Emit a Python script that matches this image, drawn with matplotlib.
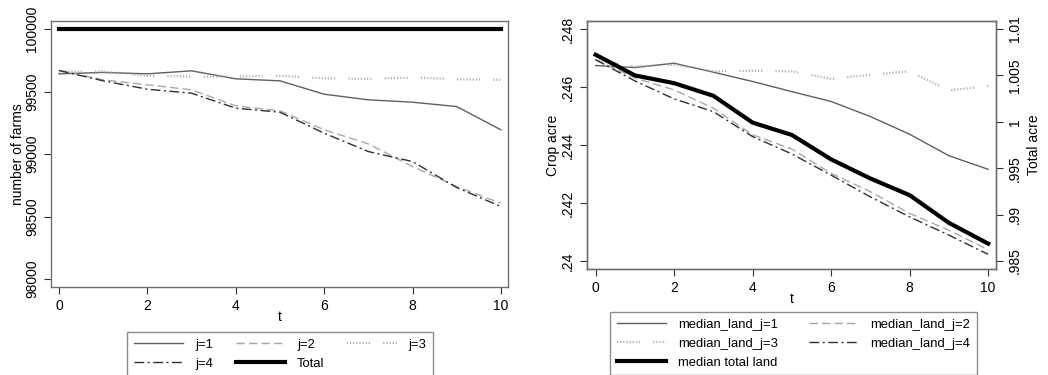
"""
Farm counts and median land by type j over t
"""
import matplotlib
matplotlib.use('Agg')
import matplotlib.pyplot as plt

# ###
# data
# ###
T = [0, 1, 2, 3, 4, 5, 6, 7, 8, 9, 10]

# number of farms
FARMS_J1 = [99642, 99653, 99642, 99666, 99602, 99586, 99479, 99434, 99415, 99380, 99194]
FARMS_J2 = [99669, 99594, 99554, 99514, 99386, 99346, 99194, 99081, 98900, 98740, 98606]
FARMS_J3 = [99660, 99660, 99626, 99620, 99620, 99626, 99607, 99602, 99613, 99599, 99594]
FARMS_J4 = [99669, 99586, 99519, 99487, 99367, 99335, 99167, 99020, 98940, 98732, 98580]
FARMS_TOTAL = [100000] * 11

# median crop acre by type
LAND_J1 = [0.24674, 0.24667, 0.24682, 0.24651, 0.24619, 0.24584, 0.24550, 0.24498, 0.24437, 0.24363, 0.24316]
LAND_J2 = [0.24694, 0.24631, 0.24590, 0.24527, 0.24435, 0.24386, 0.24302, 0.24239, 0.24164, 0.24106, 0.24039]
LAND_J3 = [0.24694, 0.24671, 0.24677, 0.24654, 0.24656, 0.24654, 0.24628, 0.24642, 0.24654, 0.24588, 0.24604]
LAND_J4 = [0.24694, 0.24621, 0.24559, 0.24515, 0.24429, 0.24369, 0.24296, 0.24221, 0.24152, 0.24089, 0.24023]
# median total acre (right axis)
LAND_TOTAL = [1.00723, 1.00500, 1.00416, 1.00280, 0.99991, 0.99858, 0.99595, 0.99389, 0.99209, 0.98911, 0.98687]

FARM_YTICKS = [98000, 98500, 99000, 99500, 100000]
CROP_YTICKS = [0.24, 0.242, 0.244, 0.246, 0.248]
CROP_YLABELS = ['.24', '.242', '.244', '.246', '.248']
TOTAL_YTICKS = [0.985, 0.99, 0.995, 1.0, 1.005, 1.01]
TOTAL_YLABELS = ['.985', '.99', '.995', '1', '1.005', '1.01']
X_TICKS = [0, 2, 4, 6, 8, 10]

# ###
# style
# ###
plt.rcParams['font.family'] = ['Liberation Sans', 'DejaVu Sans']
plt.rcParams['font.size'] = 10

FRAME_COLOR = '#707070'
LEGEND_SIZE = 9.4
DOTS = (0, (0.5, 0.9) * 7 + (0.5, 6))
STYLE_J1 = dict(color='#606060', linestyle='-', linewidth=1.0)
STYLE_J2 = dict(color='#a8a8a8', linestyle=(0, (6, 3)), linewidth=1.0)
STYLE_J3 = dict(color='#a8a8a8', linestyle=DOTS, linewidth=1.6)
STYLE_J4 = dict(color='#303030', linestyle=(0, (7, 2.5, 1.5, 2.5)), linewidth=1.0)
STYLE_TOTAL = dict(color='black', linestyle='-', linewidth=3.0)


def style_axis(ax):
    for sp in ax.spines.values():
        sp.set_color(FRAME_COLOR)
        sp.set_linewidth(1.0)
    ax.tick_params(axis='both', colors='#333333', labelcolor='black', length=5, width=0.8)


def add_legend(ax, handles, labels, ncol, anchor, colspace):
    ax.legend(handles, labels, ncol=ncol, loc='upper left',
              bbox_to_anchor=anchor, bbox_transform=fig.transFigure,
              frameon=True, fancybox=False, edgecolor=FRAME_COLOR,
              handlelength=3.8, columnspacing=colspace, handletextpad=0.9,
              borderpad=0.5, borderaxespad=0, labelspacing=0.52,
              fontsize=LEGEND_SIZE)


fig = plt.figure(figsize=(10.48, 3.75), dpi=100, facecolor='w')

# ###
# left panel: number of farms
# ###
ax1 = fig.add_axes([0.0487, 0.2347, 0.436, 0.709])
l1, = ax1.plot(T, FARMS_J1, **STYLE_J1)
l2, = ax1.plot(T, FARMS_J2, **STYLE_J2)
l3, = ax1.plot(T, FARMS_J3, **STYLE_J3)
l4, = ax1.plot(T, FARMS_J4, **STYLE_J4)
l5, = ax1.plot(T, FARMS_TOTAL, **STYLE_TOTAL)
ax1.set_xlim(-0.18, 10.16)
ax1.set_ylim(97936, 100064)
ax1.set_xticks(X_TICKS)
ax1.set_yticks(FARM_YTICKS)
ax1.set_yticklabels([str(v) for v in FARM_YTICKS], rotation=90, va='center')
ax1.set_xlabel('t', labelpad=-2)
ax1.set_ylabel('number of farms', labelpad=0)
style_axis(ax1)
add_legend(ax1, [l1, l4, l2, l5, l3], ['j=1', 'j=4', 'j=2', 'Total', 'j=3'],
           3, (127 / 1048, 1 - 332 / 375), 1.75)

# ###
# right panel: crop acre and total acre
# ###
ax2 = fig.add_axes([0.5601, 0.2827, 0.3903, 0.6613])
r1, = ax2.plot(T, LAND_J1, **STYLE_J1)
r2, = ax2.plot(T, LAND_J2, **STYLE_J2)
r3, = ax2.plot(T, LAND_J3, **STYLE_J3)
r4, = ax2.plot(T, LAND_J4, **STYLE_J4)
ax2.set_xlim(-0.22, 10.2)
ax2.set_ylim(0.239724, 0.248276)
ax2.set_xticks(X_TICKS)
ax2.set_yticks(CROP_YTICKS)
ax2.set_yticklabels(CROP_YLABELS, rotation=90, va='center')
ax2.set_xlabel('t', labelpad=-2)
ax2.set_ylabel('Crop acre', labelpad=1)
style_axis(ax2)

ax3 = ax2.twinx()
r5, = ax3.plot(T, LAND_TOTAL, **STYLE_TOTAL)
ax3.set_ylim(0.984138, 1.010862)
ax3.set_yticks(TOTAL_YTICKS)
ax3.set_yticklabels(TOTAL_YLABELS, rotation=90, va='center')
ax3.set_ylabel('Total acre', labelpad=4)
style_axis(ax3)

add_legend(ax3, [r1, r3, r5, r2, r4],
           ['median_land_j=1', 'median_land_j=3', 'median total land',
            'median_land_j=2', 'median_land_j=4'],
           2, (610 / 1048, 1 - 312 / 375), 2.4)

plt.savefig('out.png', dpi=100, facecolor='w')
plt.close(fig)
